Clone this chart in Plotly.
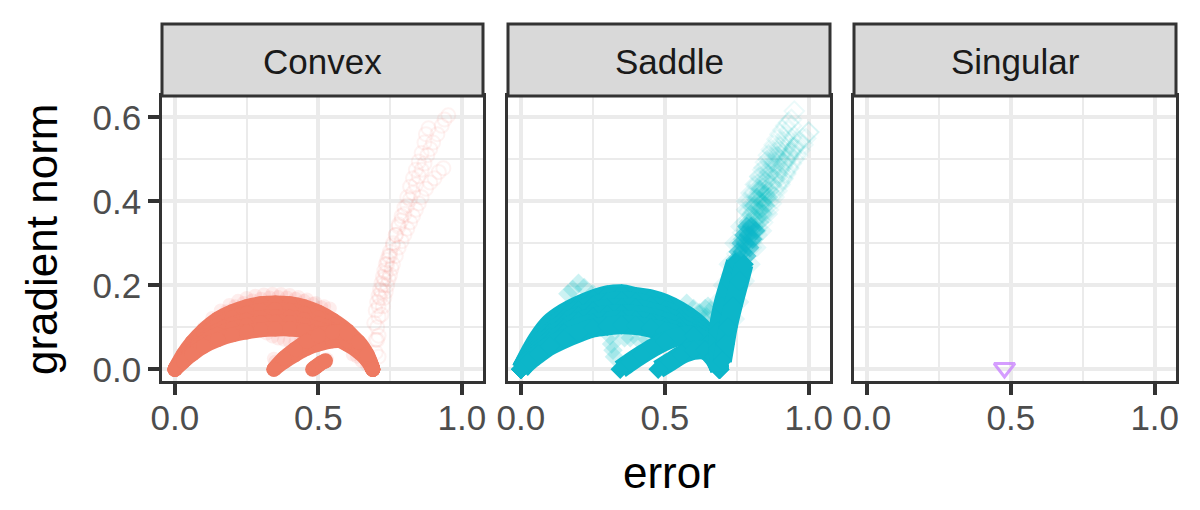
import plotly.graph_objects as go

panels = ["Convex", "Saddle", "Singular"]
x_ticks = [0.0, 0.5, 1.0]
x_labels = ["0.0", "0.5", "1.0"]
x_minor = [0.25, 0.75]
y_ticks = [0.0, 0.2, 0.4, 0.6]
y_labels = ["0.0", "0.2", "0.4", "0.6"]
y_minor = [0.1, 0.3, 0.5]
x_title = "error"
y_title = "gradient norm"

arc_x = [0, .03, .06, .1, .15, .2, .25, .3, .35, .4, .45, .5, .55, .6, .64, .67, .69]

convex_solid_arcs = [
    (arc_x, [0, .036, .064, .093, .12, .137, .149, .156, .158, .156, .149, .136, .117, .092, .062, .033, 0]),
    (arc_x, [0, .03, .054, .08, .105, .122, .133, .14, .142, .14, .133, .122, .105, .082, .055, .03, 0]),
    (arc_x, [0, .026, .047, .07, .092, .107, .117, .123, .125, .124, .118, .108, .093, .073, .05, .027, 0]),
    (arc_x, [0, .023, .042, .064, .083, .096, .104, .11, .112, .11, .105, .096, .084, .066, .046, .025, 0]),
    (arc_x, [0, .019, .036, .055, .071, .082, .089, .094, .096, .096, .092, .085, .075, .06, .042, .022, 0]),
    ([.345, .38, .42, .46, .5, .55, .6, .64, .67, .69], [0, .018, .035, .05, .06, .068, .068, .055, .03, 0]),
    ([.345, .38, .42, .46, .5, .55, .6, .64, .67, .69], [0, .026, .048, .067, .08, .088, .085, .065, .035, 0]),
    ([.48, .49, .5, .51, .525], [0, .005, .01, .015, .02]),
]
convex_soft_x = [
    [.1, .13, .16, .19, .22, .25, .28, .31, .34, .37, .4, .43, .46, .49, .52, .54],
    [.12, .15, .18, .21, .24, .27, .3, .33, .36, .39, .42, .45, .48, .51],
    [.32, .34, .36, .38, .4, .42, .44],
    [.345, .35], [.517, .525, .53], [.62, .635, .65, .67],
]
convex_soft_y = [
    [.098, .122, .14, .153, .163, .17, .175, .178, .18, .179, .177, .172, .166, .158, .15, .145],
    [.098, .12, .138, .15, .158, .164, .168, .171, .172, .171, .168, .163, .156, .148],
    [.085, .078, .073, .07, .066, .065, .068],
    [.025, .018], [.02, .022, .024], [.035, .03, .02, .01],
]
convex_tail_x = [
    [.71, .70, .695, .70, .705, .71, .715, .72, .725, .73, .735, .74, .745, .75, .76, .77, .78, .79, .80, .81, .82, .83, .84, .85, .86, .87, .88, .89, .90, .915, .93, .94, .953],
    [.70, .705, .705, .71, .71, .715, .72, .725, .73, .735, .74, .75, .76, .77, .78, .79, .80, .81, .82, .83, .84, .85, .86, .87, .875, .884],
    [.71, .72, .725, .73, .735, .74, .745, .75, .755, .76, .77, .78, .79, .80, .81, .82, .83, .84, .85, .86, .875, .89, .905, .92, .936],
]
convex_tail_y = [
    [.03, .07, .11, .14, .16, .175, .19, .205, .22, .235, .25, .26, .27, .28, .30, .32, .34, .355, .37, .39, .405, .42, .44, .46, .475, .49, .51, .525, .54, .56, .58, .595, .605],
    [.04, .07, .1, .125, .15, .17, .185, .2, .215, .23, .25, .27, .295, .32, .345, .365, .385, .41, .435, .455, .475, .495, .515, .54, .56, .574],
    [.08, .13, .15, .17, .185, .2, .215, .225, .24, .25, .27, .29, .305, .32, .335, .35, .365, .38, .395, .41, .43, .445, .455, .47, .479],
]

saddle_solid_arcs = [
    (arc_x, [0, .04, .075, .11, .135, .153, .167, .177, .18, .173, .168, .157, .14, .117, .09, .05, 0]),
    (arc_x, [0, .036, .067, .098, .122, .14, .152, .16, .163, .16, .152, .14, .124, .104, .08, .045, 0]),
    (arc_x, [0, .032, .058, .087, .11, .127, .138, .145, .147, .145, .138, .127, .112, .093, .07, .04, 0]),
    (arc_x, [0, .028, .05, .076, .098, .114, .124, .13, .132, .13, .124, .114, .1, .083, .062, .035, 0]),
    (arc_x, [0, .024, .043, .066, .086, .1, .11, .115, .118, .116, .11, .1, .088, .073, .054, .03, 0]),
    (arc_x, [0, .02, .036, .055, .072, .086, .098, .103, .106, .104, .098, .09, .08, .065, .048, .026, 0]),
    ([.345, .38, .42, .46, .5, .55, .6, .65, .69], [0, .017, .035, .052, .066, .078, .08, .06, 0]),
    ([.477, .52, .56, .6, .64, .67, .69], [0, .018, .035, .045, .045, .03, 0]),
    ([.69, .685, .685, .70, .725, .745], [0, .05, .09, .15, .21, .255]),
    ([.70, .71, .72, .737, .76, .775], [.02, .06, .10, .15, .21, .25]),
]
saddle_mid_x = [
    [.745, .755, .765, .775, .785],
    [.76, .77, .78, .79, .80],
    [.775, .785, .795, .805, .815],
]
saddle_mid_y = [
    [.26, .28, .30, .32, .34],
    [.26, .28, .30, .32, .34],
    [.25, .27, .29, .31, .33],
]
saddle_soft_x = [
    [.163, .18, .2, .22, .25], [.31, .315, .32, .325], [.36, .38, .41, .44], [.576, .6, .62, .645], [.63, .64, .65, .66],
    [.77, .78, .79, .80, .81, .82, .83],
    [.79, .80, .81, .82, .83, .84, .85],
    [.81, .82, .83, .84, .85, .86],
]
saddle_soft_y = [
    [.18, .19, .205, .195, .18], [.08, .06, .045, .03], [.075, .075, .07, .07], [.157, .145, .135, .125], [.12, .145, .15, .14],
    [.31, .33, .35, .37, .39, .41, .43],
    [.30, .32, .34, .36, .38, .40, .42],
    [.31, .33, .35, .37, .39, .41],
]
saddle_halo_x = [
    [.745, .76, .78, .80, .82, .84, .86],
    [.67, .68, .70, .72, .74, .76, .78],
    [.80, .815, .83, .845, .86, .875, .89],
    [.78, .795, .81, .825, .84, .855, .87],
]
saddle_halo_y = [
    [.12, .16, .21, .25, .29, .33, .37],
    [.12, .16, .20, .25, .30, .34, .38],
    [.39, .41, .43, .45, .47, .49, .51],
    [.40, .42, .44, .46, .48, .50, .52],
]
saddle_tail_x = [
    [.72, .73, .74, .75, .76, .77, .78, .79, .80, .81, .82, .83, .84, .85, .86, .87, .88, .89, .90, .91, .92, .93, .94, .95],
    [.74, .75, .76, .77, .78, .79, .80, .81, .82, .83, .84, .85, .86, .87, .88, .89, .90, .91, .92, .93, .94],
    [.76, .77, .78, .79, .80, .81, .82, .83, .84, .85, .86, .87, .88, .89, .90, .91, .92, .93, .94],
    [.78, .79, .80, .81, .82, .83, .84, .85, .86, .87, .88, .89, .90, .91, .92, .93, .94, .95, .96, .97, .98, 1.0],
    [.77, .78, .79, .80, .81, .82, .83, .84, .85, .86, .87, .88, .89, .90, .91, .92, .93],
    [.75, .76, .77, .78, .79, .80, .81, .82, .83, .84, .85, .86, .87, .88, .89, .90, .91, .92],
    [.80, .81, .82, .83, .84, .85, .86, .87, .88, .89, .90, .91, .92, .93, .94, .95],
    [.80, .82, .84, .86, .87, .88, .89, .90, .91, .92, .93, .94, .95, .96, .97, .98, .99, 1.0],
    [.84, .85, .86, .87, .88, .89, .90, .91, .92, .93, .94, .95, .96],
]
saddle_tail_y = [
    [.2, .225, .25, .275, .3, .325, .35, .375, .4, .42, .44, .458, .475, .493, .51, .523, .535, .548, .56, .57, .58, .588, .595, .615],
    [.22, .245, .27, .295, .32, .343, .365, .385, .405, .423, .44, .458, .475, .49, .505, .518, .53, .543, .555, .568, .58],
    [.24, .265, .29, .313, .335, .355, .375, .393, .41, .428, .445, .46, .475, .488, .5, .513, .525, .538, .55],
    [.27, .29, .31, .33, .35, .368, .385, .4, .415, .43, .445, .458, .47, .483, .495, .505, .515, .525, .535, .543, .55, .565],
    [.25, .268, .285, .303, .32, .338, .355, .37, .385, .398, .41, .423, .435, .445, .455, .468, .48],
    [.23, .255, .28, .305, .33, .353, .375, .395, .413, .43, .448, .463, .478, .493, .507, .52, .533, .545],
    [.33, .35, .365, .38, .395, .41, .425, .44, .453, .465, .477, .488, .498, .508, .518, .528],
    [.29, .32, .35, .38, .395, .41, .425, .44, .453, .465, .478, .49, .50, .51, .522, .535, .55, .565],
    [.40, .413, .425, .44, .452, .465, .477, .49, .50, .512, .522, .53, .54],
]

singular_x = [0.478]
singular_y = [0.003]

panel_left = [162, 508, 854]
panel_right = [483, 830, 1176]
W, H = 1200, 510
top, bottom, strip_top = 96, 381, 24
x_range = [-0.045, 1.074]
y_range = [-0.028, 0.651]

fig = go.Figure()
red, red_solid = "rgb(248,118,109)", "#EE7A62"
teal, teal_solid = "rgb(0,191,196)", "#0CB6C9"

def solid(arcs, color, size, symbol, width, ax):
    for xs, ys in arcs:
        fig.add_trace(go.Scatter(x=xs, y=ys, mode="lines+markers", xaxis=ax, yaxis="y" if ax == "x" else "y" + ax[1:],
                                 line=dict(color=color, width=width, shape="spline"),
                                 marker=dict(color=color, size=size, symbol=symbol, line=dict(width=0)),
                                 showlegend=False, hoverinfo="skip"))

def points(xs, ys, color, size, symbol, opacity, ax, lw=2):
    fig.add_trace(go.Scatter(x=xs, y=ys, mode="markers", xaxis=ax, yaxis="y" if ax == "x" else "y" + ax[1:],
                             marker=dict(color=color, size=size, symbol=symbol, opacity=opacity,
                                         line=dict(color=color, width=lw)),
                             showlegend=False, hoverinfo="skip"))

for xs, ys in zip(convex_tail_x, convex_tail_y):
    points(xs, ys, red, 14, "circle-open", 0.09, "x")
for xs, ys in zip(convex_soft_x, convex_soft_y):
    points(xs, ys, red, 14, "circle", 0.12, "x", 0)
solid(convex_solid_arcs, red_solid, 15, "circle", 15, "x")

for xs, ys in zip(saddle_tail_x, saddle_tail_y):
    points(xs, ys, teal, 15, "diamond-open", 0.08, "x2")
for xs, ys in zip(saddle_halo_x, saddle_halo_y):
    points(xs, ys, teal, 15, "diamond", 0.1, "x2", 0)
for xs, ys in zip(saddle_soft_x, saddle_soft_y):
    points(xs, ys, teal, 15, "diamond", 0.2, "x2", 0)
for xs, ys in zip(saddle_mid_x, saddle_mid_y):
    points(xs, ys, teal_solid, 15, "diamond", 0.55, "x2", 0)
solid(saddle_solid_arcs, teal_solid, 15, "diamond", 19, "x2")

points(singular_x, singular_y, "rgb(199,124,255)", 18, "triangle-down-open", 0.75, "x3", 3)

grid = "#EBEBEB"
dark = "#333333"
tick_font = dict(family="Liberation Sans", size=35, color="#4D4D4D")
for i in range(3):
    s = "" if i == 0 else str(i + 1)
    fig.update_layout({
        "xaxis" + s: dict(domain=[panel_left[i] / W, panel_right[i] / W], range=x_range, anchor="y" + s,
                          tickmode="array", tickvals=x_ticks, ticktext=x_labels, automargin=False,
                          tickfont=tick_font, ticklabelstandoff=-7,
                          ticks="outside", ticklen=11, tickwidth=4, tickcolor=dark,
                          showline=True, mirror=True, linecolor=dark, linewidth=2.5,
                          showgrid=True, gridcolor=grid, gridwidth=4, zeroline=False,
                          minor=dict(tickmode="array", tickvals=x_minor, showgrid=True, gridcolor=grid, gridwidth=2, ticks="")),
        "yaxis" + s: dict(domain=[1 - bottom / H, 1 - top / H], range=y_range, anchor="x" + s,
                          tickmode="array", tickvals=y_ticks, ticktext=y_labels, automargin=False,
                          tickfont=tick_font,
                          showticklabels=i == 0, ticks="outside" if i == 0 else "", ticklen=11, tickwidth=4, tickcolor=dark,
                          showline=True, mirror=True, linecolor=dark, linewidth=2.5,
                          showgrid=True, gridcolor=grid, gridwidth=4, zeroline=False,
                          minor=dict(tickmode="array", tickvals=y_minor, showgrid=True, gridcolor=grid, gridwidth=2, ticks="")),
    })
    fig.add_shape(type="rect", xref="paper", yref="paper", x0=panel_left[i] / W, x1=panel_right[i] / W,
                  y0=1 - top / H, y1=1 - strip_top / H, fillcolor="#D9D9D9", line=dict(color=dark, width=3))
    fig.add_annotation(xref="paper", yref="paper", x=(panel_left[i] + panel_right[i]) / 2 / W, y=1 - 61 / H,
                       xanchor="center", yanchor="middle", text=panels[i], showarrow=False,
                       font=dict(family="Liberation Sans", size=35, color="#1A1A1A"))

fig.add_annotation(xref="paper", yref="paper", x=669 / W, y=1 - 472 / H, text=x_title, showarrow=False,
                   xanchor="center", yanchor="middle", font=dict(family="Liberation Sans", size=44, color="black"))
fig.add_annotation(xref="paper", yref="paper", x=41 / W, y=1 - 240 / H, text=y_title, textangle=-90, showarrow=False,
                   xanchor="center", yanchor="middle", font=dict(family="Liberation Sans", size=44, color="black"))

fig.update_layout(
    width=W, height=H, margin=dict(l=0, r=0, t=0, b=0), paper_bgcolor="white", plot_bgcolor="white",
    showlegend=False,
)
fig.write_html("out.html", config=dict(displayModeBar=False), post_script="document.body.style.margin='0';")
